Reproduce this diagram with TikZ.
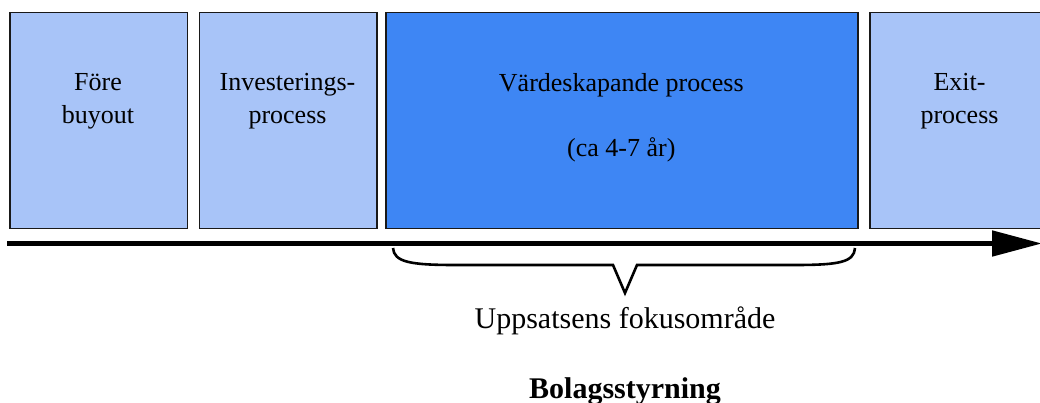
\documentclass[tikz,border=0pt]{standalone}
\usepackage{fontspec}
\setmainfont{Liberation Serif}
\usetikzlibrary{arrows.meta}
\definecolor{phaselight}{RGB}{168,196,248}
\definecolor{phasedark}{RGB}{62,134,244}
\begin{document}
\begin{tikzpicture}[x=1pt,y=-1pt,
  phase/.style={draw=black!90, line width=1.5pt, anchor=north west, inner sep=0pt, minimum height=216pt},
  phasetext/.style={anchor=north, align=center, inner sep=0pt, font=\fontsize{26}{33}\selectfont},
  caption/.style={anchor=base, inner sep=0pt, font=\fontsize{30}{36}\selectfont}]
  \useasboundingbox (0,0) rectangle (1040,403);
  \clip (0,0) rectangle (1040,403);

  % phase boxes
  \node[phase, fill=phaselight, minimum width=177.5pt] (pre) at (9,12) {};
  \node[phase, fill=phaselight, minimum width=177.5pt] (inv) at (198.7,12) {};
  \node[phase, fill=phasedark, minimum width=472pt] (val) at (385.3,12) {};
  \node[phase, fill=phaselight, minimum width=220pt] (exit) at (869.3,12) {};

  \node[phasetext] (pretxt) at (98,73) {Före\\buyout};
  \node[phasetext] (invtxt) at (287.5,73) {Investerings-\\process};
  \node[phasetext] (valtxt) at (621.3,73) {Värdeskapande process\\[32pt](ca 4-7 år)};
  \node[phasetext] (exittxt) at (959.5,73) {Exit-\\process};

  % time axis
  \coordinate (tstart) at (7,243.5);
  \coordinate (tend) at (1042,243.5);
  \draw[line width=5pt, -{Triangle[length=50pt,width=25pt]}] (tstart) -- (tend);

  % brace under the value creation phase
  \coordinate (bl) at (393,248);
  \coordinate (br) at (855,248);
  \coordinate (btip) at (625,293);
  \draw[line width=2.6pt, line join=miter]
    (bl) .. controls (394,262) and (410,265) .. (455,265)
    -- (613,265) -- (btip) -- (637,265) -- (795,265)
    .. controls (840,265) and (854,262) .. (br);

  \node[caption] (focus) at (625,328) {Uppsatsens fokusområde};
  \node[caption, font=\fontsize{30}{36}\selectfont\bfseries] (gov) at (625,398) {Bolagsstyrning};
\end{tikzpicture}
\end{document}
